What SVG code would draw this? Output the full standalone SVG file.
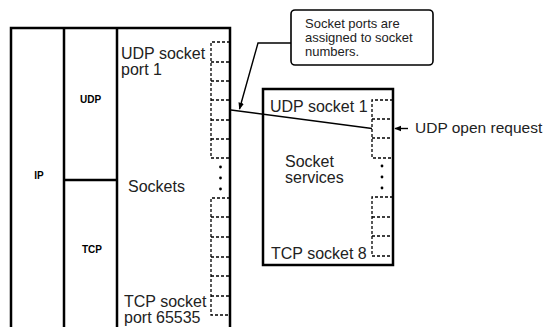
<svg xmlns="http://www.w3.org/2000/svg" width="552" height="327" viewBox="0 0 552 327">
<defs>
<style>
.box{fill:none;stroke:#000;stroke-width:2.5}
.dash{fill:none;stroke:#000;stroke-width:1.3;stroke-dasharray:3 2}
.ln{fill:none;stroke:#000;stroke-width:1.4}
.t{font-family:"Liberation Sans",Arial,sans-serif;font-size:16px;fill:#222}
.s{font-family:"Liberation Sans",Arial,sans-serif;font-size:13px;fill:#222}
.b{font-family:"Liberation Sans",Arial,sans-serif;font-size:10px;font-weight:bold;fill:#000}
</style>
<marker id="ah" viewBox="0 0 10 10" refX="9" refY="5" markerWidth="7" markerHeight="7" orient="auto" markerUnits="userSpaceOnUse">
<path d="M0,1 L10,5 L0,9 Z" fill="#000"/>
</marker>
</defs>
<rect width="552" height="327" fill="#fff"/>

<g id="stack">
<path class="box" d="M11,332 V28 H230 V332 M64,28 V332 M117,28 V332 M64,180 H117"/>
<text class="b" x="39" y="179" text-anchor="middle">IP</text>
<text class="b" x="90.5" y="103" text-anchor="middle">UDP</text>
<text class="b" x="92" y="253" text-anchor="middle">TCP</text>
</g>

<g id="sockets">
<path class="dash" d="M230,42 H211 V158 H230 M211,62 H230 M211,81 H230 M211,100 H230 M211,120 H230 M211,139 H230"/>
<circle cx="220.5" cy="167" r="1.4"/>
<circle cx="220.5" cy="178" r="1.4"/>
<circle cx="220.5" cy="189" r="1.4"/>
<path class="dash" d="M230,198 H211 V315 H230 M211,217 H230 M211,237 H230 M211,257 H230 M211,276 H230 M211,296 H230"/>
<text class="t" x="121" y="59">UDP socket</text>
<text class="t" x="121" y="75">port 1</text>
<text class="t" x="128" y="192">Sockets</text>
<text class="t" x="124" y="307">TCP socket</text>
<text class="t" x="124" y="323">port 65535</text>
</g>

<g id="services">
<rect class="box" x="263" y="89" width="130" height="176"/>
<path class="dash" d="M393,100 H372 V158 H393 M372,119 H393 M372,138 H393"/>
<circle cx="382" cy="166" r="1.4"/>
<circle cx="382" cy="177" r="1.4"/>
<circle cx="382" cy="188" r="1.4"/>
<path class="dash" d="M393,197 H372 V256 H393 M372,217 H393 M372,236 H393"/>
<text class="t" x="270" y="112">UDP socket 1</text>
<text class="t" x="285" y="167">Socket</text>
<text class="t" x="285" y="183">services</text>
<text class="t" x="271" y="259">TCP socket 8</text>
</g>

<g id="callout">
<rect x="291" y="10" width="142" height="55" rx="4" fill="#fff" stroke="#000" stroke-width="1.6"/>
<text class="s" x="305" y="28">Socket ports are</text>
<text class="s" x="305" y="42">assigned to socket</text>
<text class="s" x="305" y="56">numbers.</text>
</g>

<g id="request-label">
<text class="t" style="font-size:15.5px" x="415" y="133">UDP open request</text>
</g>

<g id="connectors">
<path class="ln" d="M231,110 L372,128.5"/>
<path class="ln" d="M291,43 H258 L239.5,109" marker-end="url(#ah)"/>
<path class="ln" d="M408,128.5 H395" marker-end="url(#ah)"/>
</g>
</svg>
